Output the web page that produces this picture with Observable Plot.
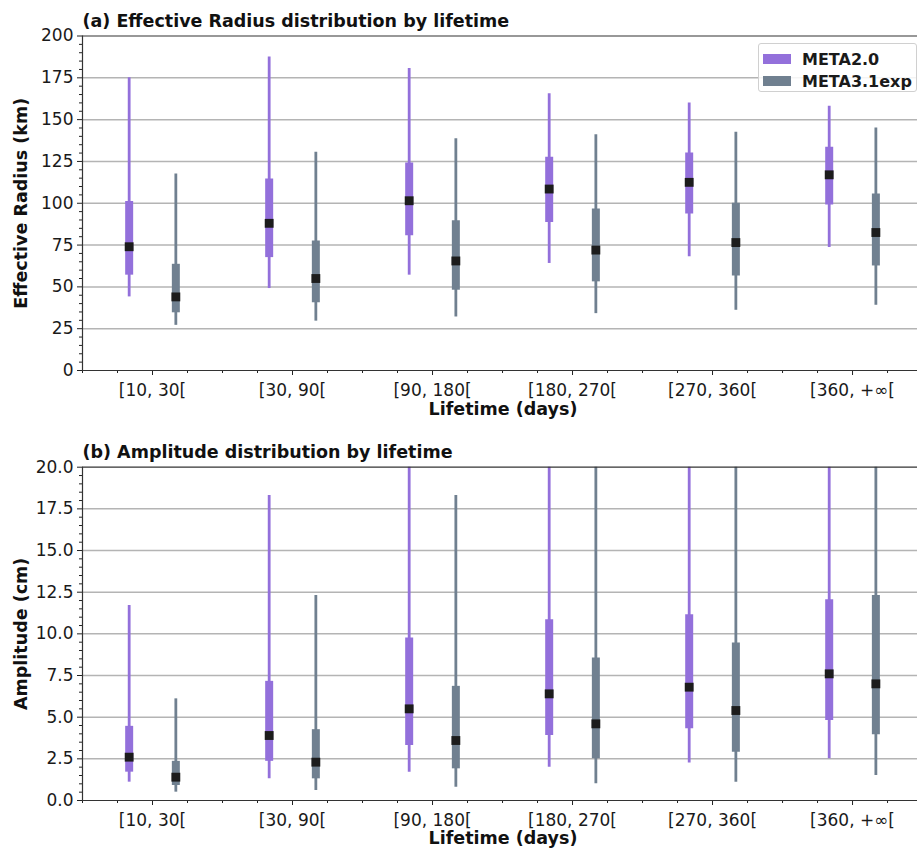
<!DOCTYPE html>
<html><head><meta charset="utf-8">
<script src="https://cdn.jsdelivr.net/npm/d3@7"></script>
<script src="https://cdn.jsdelivr.net/npm/@observablehq/plot@0.6"></script>
<style>
body{margin:0;background:#fff;overflow:hidden;font-family:"DejaVu Sans",sans-serif;}
#chart{position:relative;width:917px;height:851px;}
#chart svg{display:block;}
.legend{position:absolute;left:758px;top:43px;width:157px;height:47px;border:1px solid #d0d0d0;border-radius:3px;background:rgba(255,255,255,0.85);font-weight:bold;font-size:16px;color:#1a1a1a;}
.legend .row{position:absolute;left:4px;height:20px;display:flex;align-items:center;}
.legend .sw{width:28px;height:10px;margin-right:11px;}
</style></head><body><div id="chart"></div>
<script>
// Categories (lifetime bins)
const categories = ["[10, 30[", "[30, 90[", "[90, 180[", "[180, 270[", "[270, 360[", "[360, +\u221e["];
const series = ["META2.0", "META3.1exp"];
const seriesColors = ["#9370DB", "#708090"];

// Each entry: [whisker low, Q1, median, Q3, whisker high]
const radiusMeta2 = [
  [44, 57, 74, 101, 175],
  [49, 67.5, 88, 114.5, 187.5],
  [57, 80.5, 101.5, 124, 180.5],
  [64, 88.5, 108.5, 127.5, 165.5],
  [68, 93.5, 112.5, 130, 160],
  [73.5, 99, 117, 133.5, 158]
];
const radiusMeta3 = [
  [27, 34.5, 44, 63.5, 117.5],
  [29.5, 40.5, 55, 77.5, 130.5],
  [32, 48, 65.5, 89.5, 138.5],
  [34, 53, 72, 96.5, 141],
  [36, 56.5, 76.5, 100, 142.5],
  [39, 62.5, 82.5, 105.5, 145]
];
const ampMeta2 = [
  [1.1, 1.7, 2.6, 4.45, 11.7],
  [1.3, 2.35, 3.9, 7.15, 18.3],
  [1.7, 3.3, 5.5, 9.75, 24],
  [2.0, 3.9, 6.4, 10.85, 27],
  [2.25, 4.3, 6.8, 11.15, 28],
  [2.5, 4.8, 7.6, 12.05, 30]
];
const ampMeta3 = [
  [0.5, 0.9, 1.4, 2.35, 6.1],
  [0.6, 1.3, 2.3, 4.25, 12.3],
  [0.8, 1.9, 3.6, 6.85, 18.3],
  [1.0, 2.5, 4.6, 8.55, 26],
  [1.1, 2.9, 5.4, 9.45, 28],
  [1.5, 3.95, 7.0, 12.3, 32]
];
const radiusTicks = [0, 25, 50, 75, 100, 125, 150, 175, 200];
const ampTicks = [0, 2.5, 5, 7.5, 10, 12.5, 15, 17.5, 20];

const offset = 1 / 6;
function buildRows(a, b) {
  const rows = [];
  [a, b].forEach((arr, s) => arr.forEach((v, i) => rows.push({
    x: i + (s === 0 ? -offset : offset), series: series[s],
    low: v[0], q1: v[1], med: v[2], q3: v[3], high: v[4]
  })));
  return rows;
}

function panel({title, ylabel, ymax, ticks, minorStep, rows, height, marginTop, marginBottom, fmt, xlabelDy}) {
  const minorY = d3.range(0, ymax + 1e-9, minorStep).filter(v => !ticks.some(t => Math.abs(t - v) < 1e-9));
  const minorX = d3.range(-0.5, 5.5, 0.25).filter(v => !Number.isInteger(v));
  return Plot.plot({
    width: 917, height, marginLeft: 82, marginRight: 0, marginTop, marginBottom,
    style: {fontFamily: "DejaVu Sans", fontSize: "17px", color: "#1a1a1a", background: "white"},
    x: {domain: [-0.5, 5.464], axis: null},
    y: {domain: [0, ymax], axis: null},
    color: {domain: series, range: seriesColors},
    marks: [
      Plot.gridY(ticks.slice(1, -1), {stroke: "#b4b4b4", strokeOpacity: 1, strokeWidth: 1.5}),
      Plot.axisY(ticks, {tickSize: 5, tickPadding: 4, fontSize: 17, tickFormat: fmt, label: null, stroke: "#222", fill: "#1a1a1a"}),
      Plot.axisY(minorY, {tickSize: 3, tickFormat: () => "", label: null, stroke: "#222"}),
      Plot.axisX(d3.range(6), {tickSize: 5, tickPadding: 8, fontSize: 17, tickFormat: i => categories[i], label: null, stroke: "#222", fill: "#1a1a1a"}),
      Plot.axisX(minorX, {tickSize: 3, tickFormat: () => "", label: null, stroke: "#222"}),
      Plot.ruleX(rows, {x: "x", y1: "low", y2: "high", stroke: "series", strokeWidth: 2.8, clip: true}),
      Plot.ruleX(rows, {x: "x", y1: "q1", y2: "q3", stroke: "series", strokeWidth: 8, clip: true}),
      Plot.dot(rows, {x: "x", y: "med", symbol: "square", r: 5, fill: "#1c1c1c", stroke: null}),
      Plot.ruleY([0, ymax], {stroke: "#333", strokeWidth: 1.2}),
      Plot.ruleX([-0.5], {stroke: "#333", strokeWidth: 1.2}),
      Plot.text([title], {frameAnchor: "top-left", dy: -9, lineAnchor: "bottom", textAnchor: "start", fontWeight: "bold", fontSize: 17.5, fill: "#111"}),
      Plot.text([ylabel], {frameAnchor: "left", textAnchor: "middle", rotate: -90, dx: -61, fontWeight: "bold", fontSize: 17.5, fill: "#111"}),
      Plot.text(["Lifetime (days)"], {frameAnchor: "bottom", textAnchor: "middle", dy: xlabelDy, dx: 3, fontWeight: "bold", fontSize: 17.5, fill: "#111"})
    ]
  });
}

const chart = document.getElementById("chart");
chart.appendChild(panel({
  title: "(a) Effective Radius distribution by lifetime",
  ylabel: "Effective Radius (km)", ymax: 200, ticks: radiusTicks, minorStep: 5,
  rows: buildRows(radiusMeta2, radiusMeta3), height: 425, marginTop: 35.5, marginBottom: 55,
  fmt: d => String(d), xlabelDy: 44
}));
chart.appendChild(panel({
  title: "(b) Amplitude distribution by lifetime",
  ylabel: "Amplitude (cm)", ymax: 20, ticks: ampTicks, minorStep: 0.5,
  rows: buildRows(ampMeta2, ampMeta3), height: 426, marginTop: 41.7, marginBottom: 51,
  fmt: d => d.toFixed(1), xlabelDy: 43
}));

const legend = document.createElement("div");
legend.className = "legend";
series.forEach((s, i) => {
  const row = document.createElement("div");
  row.className = "row";
  row.style.top = (i === 0 ? 5 : 27) + "px";
  row.innerHTML = `<span class="sw" style="background:${seriesColors[i]}"></span><span>${s}</span>`;
  legend.appendChild(row);
});
chart.appendChild(legend);
</script>
</body></html>
